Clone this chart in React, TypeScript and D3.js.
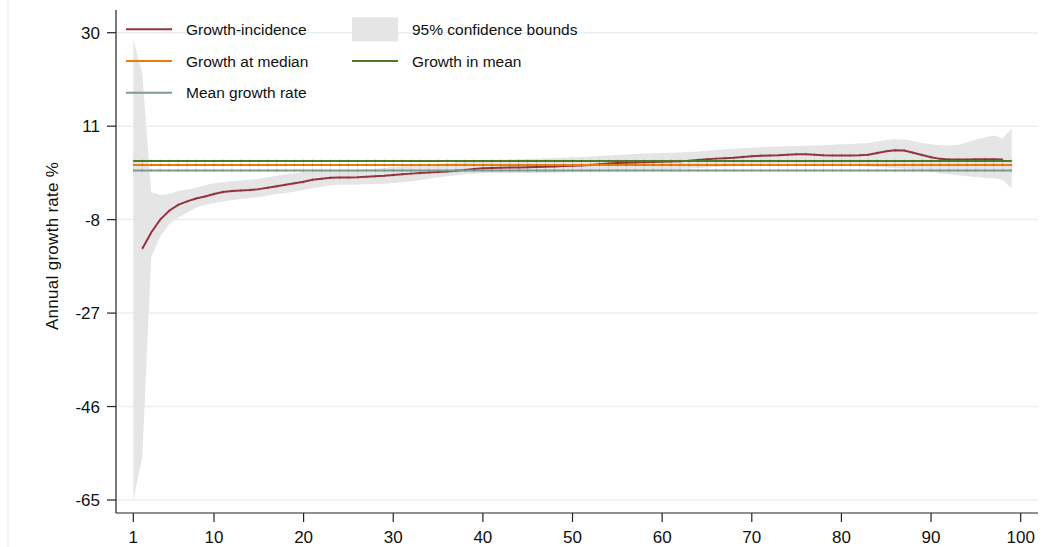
import React from 'react';
import * as d3 from 'd3';

// percentiles 1..99
const percentiles = d3.range(1, 100);

// growth-incidence curve, percentiles 2..98
const gicFrom = 2;
const gic = [
  -13.9, -10.6, -8.0, -6.2, -5.0, -4.3, -3.7, -3.3, -2.8,
  -2.4, -2.2, -2.1, -2.0, -1.8, -1.5, -1.2, -0.9, -0.6, -0.3,
  0.1, 0.3, 0.5, 0.55, 0.55, 0.6, 0.7, 0.8, 0.9, 1.05,
  1.2, 1.35, 1.5, 1.6, 1.7, 1.8, 1.95, 2.1, 2.3, 2.45,
  2.5, 2.55, 2.6, 2.6, 2.65, 2.7, 2.75, 2.8, 2.9, 2.95,
  3.0, 3.1, 3.25, 3.4, 3.5, 3.55, 3.6, 3.65, 3.7, 3.75,
  3.8, 3.85, 3.95, 4.1, 4.25, 4.4, 4.5, 4.6, 4.75, 4.9,
  5.0, 5.05, 5.1, 5.2, 5.3, 5.3, 5.2, 5.1, 5.05, 5.05,
  5.05, 5.1, 5.2, 5.55, 5.9, 6.1, 6.05, 5.6, 5.15, 4.7,
  4.35, 4.2, 4.2, 4.2, 4.25, 4.25, 4.25, 4.2
];

// 95% confidence bounds, percentiles 1..99
const ciUpper = [
  28.6, 21.7, -2.4, -3.0, -2.8, -2.2, -1.9, -1.5, -1.0, -0.6,
  -0.4, -0.2, -0.05, 0.1, 0.3, 0.6, 0.9, 1.2, 1.45, 1.7,
  1.85, 1.95, 2.0, 2.0, 2.0, 2.1, 2.2, 2.35, 2.5, 2.7,
  2.85, 3.0, 3.1, 3.2, 3.3, 3.45, 3.6, 3.75, 3.9, 4.0,
  4.1, 4.15, 4.2, 4.25, 4.3, 4.4, 4.5, 4.55, 4.6, 4.7,
  4.75, 4.85, 4.95, 5.05, 5.15, 5.25, 5.35, 5.45, 5.5, 5.55,
  5.6, 5.65, 5.75, 5.85, 6.0, 6.15, 6.3, 6.4, 6.5, 6.6,
  6.7, 6.8, 6.85, 6.9, 6.95, 7.0, 7.05, 7.1, 7.2, 7.3,
  7.35, 7.45, 7.6, 7.9, 8.2, 8.35, 8.3, 8.0, 7.6, 7.3,
  7.1, 7.0, 7.2, 7.7, 8.3, 8.7, 9.1, 8.5, 10.6
];
const ciLower = [
  -65, -56.3, -15.6, -11.5, -8.9, -7.6, -6.6, -5.6, -5.0, -4.6,
  -4.3, -4.0, -3.8, -3.6, -3.4, -3.1, -2.8, -2.6, -2.3, -2.0,
  -1.6, -1.3, -1.0, -0.9, -0.9, -0.85, -0.8, -0.75, -0.7, -0.55,
  -0.4, -0.2, 0.0, 0.3, 0.6, 0.8, 1.0, 1.2, 1.35, 1.45,
  1.5, 1.5, 1.5, 1.5, 1.5, 1.5, 1.5, 1.55, 1.6, 1.65,
  1.7, 1.75, 1.8, 1.85, 1.9, 1.95, 2.0, 2.05, 2.1, 2.15,
  2.2, 2.3, 2.4, 2.5, 2.6, 2.7, 2.8, 2.9, 3.0, 3.1,
  3.2, 3.3, 3.35, 3.4, 3.4, 3.35, 3.3, 3.2, 3.1, 3.0,
  2.95, 2.9, 2.8, 2.7, 2.6, 2.5, 2.35, 2.2, 2.0, 1.75,
  1.45, 1.2, 1.0, 0.8, 0.65, 0.5, 0.4, 0.05, -1.65
];

const growthInMean = 3.9;
const growthAtMedian = 3.1;
const meanGrowthRate = 2.0;

const yTicks = [30, 11, -8, -27, -46, -65];
const xTicks = [1, 10, 20, 30, 40, 50, 60, 70, 80, 90, 100];

const C = {
  gic: '#93353f',
  median: '#ea7d08',
  mean: '#4f7a28',
  rate: '#7a9c92',
  band: '#e5e5e5',
  grid: '#e8f0f2',
  axis: '#222'
};

const font = 'Arial, "Liberation Sans", Helvetica, sans-serif';

export default function App() {
  const W = 1058, H = 547;
  const axisX = 116, axisY = 513, plotTop = 10, plotRight = 1038;

  const x = d3.scaleLinear().domain([1, 100]).range([133.3, 1020.7]);
  const y = d3.scaleLinear().domain([30, -65]).range([32.7, 500]);

  const band = d3.area<number>()
    .x(p => x(p))
    .y0((p, i) => y(ciLower[i]))
    .y1((p, i) => y(ciUpper[i]));

  const gicPts = gic.map((v, i) => [gicFrom + i, v] as [number, number]);
  const line = d3.line<[number, number]>().x(d => x(d[0])).y(d => y(d[1]));

  const hLines = [
    { v: meanGrowthRate, c: C.rate },
    { v: growthAtMedian, c: C.median },
    { v: growthInMean, c: C.mean }
  ];

  // tiny per-percentile markers like the original's connected points
  const marks = (pts: [number, number][], color: string, key: string) =>
    pts.map((d, i) => (
      <line key={key + i} x1={x(d[0])} x2={x(d[0])} y1={y(d[1]) - 1.8} y2={y(d[1]) + 1.8}
        stroke={color} strokeWidth={0.7} opacity={0.3} />
    ));

  const legendRows = [29.3, 61, 92.7];
  const col1 = { sx: 126, ex: 172, tx: 186 };
  const col2 = { sx: 352, ex: 398, tx: 412 };

  return (
    <svg width={W} height={H} style={{ position: 'absolute', left: 0, top: 0, background: '#fff' }}
      fontFamily={font}>
      <rect width={W} height={H} fill="#fff" />
      <line x1={8} x2={8} y1={0} y2={H} stroke={C.grid} strokeWidth={1.5} />

      {/* grid */}
      {yTicks.map(t => (
        <line key={'g' + t} x1={axisX} x2={plotRight} y1={y(t)} y2={y(t)} stroke={C.grid} strokeWidth={1.5} />
      ))}

      {/* confidence band */}
      <path d={band(percentiles) || ''} fill={C.band} />

      {/* growth-incidence curve */}
      <path d={line(gicPts) || ''} fill="none" stroke={C.gic} strokeWidth={2} />
      {marks(gicPts, '#5a1a22', 'm')}

      {hLines.map((h, k) => {
        const pts = percentiles.map(p => [p, h.v] as [number, number]);
        return (
          <g key={'h' + k}>
            <path d={line(pts) || ''} fill="none" stroke={h.c} strokeWidth={2} />
            {marks(pts, '#333', 'h' + k)}
          </g>
        );
      })}

      {/* y axis */}
      <line x1={axisX} x2={axisX} y1={plotTop} y2={axisY} stroke={C.axis} strokeWidth={1.2} />
      {yTicks.map(t => (
        <g key={'yt' + t}>
          <line x1={axisX - 9} x2={axisX} y1={y(t)} y2={y(t)} stroke={C.axis} strokeWidth={1.2} />
          <text x={100} y={y(t) + 6} textAnchor="end" fontSize={17} fill="#111">{t}</text>
        </g>
      ))}
      <text transform="translate(58,246) rotate(-90)" textAnchor="middle" fontSize={17} fill="#111"
        textLength={168} lengthAdjust="spacing">Annual growth rate %</text>

      {/* x axis */}
      <line x1={axisX} x2={plotRight} y1={axisY} y2={axisY} stroke={C.axis} strokeWidth={1.2} />
      {xTicks.map(t => (
        <g key={'xt' + t}>
          <line x1={x(t)} x2={x(t)} y1={axisY} y2={axisY + 9} stroke={C.axis} strokeWidth={1.2} />
          <text x={x(t)} y={543} textAnchor="middle" fontSize={17} fill="#111">{t}</text>
        </g>
      ))}

      {/* legend */}
      <g fontSize={15.5} fill="#111">
        <line x1={col1.sx} x2={col1.ex} y1={legendRows[0]} y2={legendRows[0]} stroke={C.gic} strokeWidth={2} />
        <text x={col1.tx} y={legendRows[0] + 5.5}>Growth-incidence</text>
        <line x1={col1.sx} x2={col1.ex} y1={legendRows[1]} y2={legendRows[1]} stroke={C.median} strokeWidth={2} />
        <text x={col1.tx} y={legendRows[1] + 5.5}>Growth at median</text>
        <line x1={col1.sx} x2={col1.ex} y1={legendRows[2]} y2={legendRows[2]} stroke={C.rate} strokeWidth={2} />
        <text x={col1.tx} y={legendRows[2] + 5.5}>Mean growth rate</text>

        <rect x={col2.sx} y={legendRows[0] - 12} width={col2.ex - col2.sx} height={24} fill={C.band} />
        <text x={col2.tx} y={legendRows[0] + 5.5}>95% confidence bounds</text>
        <line x1={col2.sx} x2={col2.ex} y1={legendRows[1]} y2={legendRows[1]} stroke={C.mean} strokeWidth={2} />
        <text x={col2.tx} y={legendRows[1] + 5.5}>Growth in mean</text>
      </g>
    </svg>
  );
}
